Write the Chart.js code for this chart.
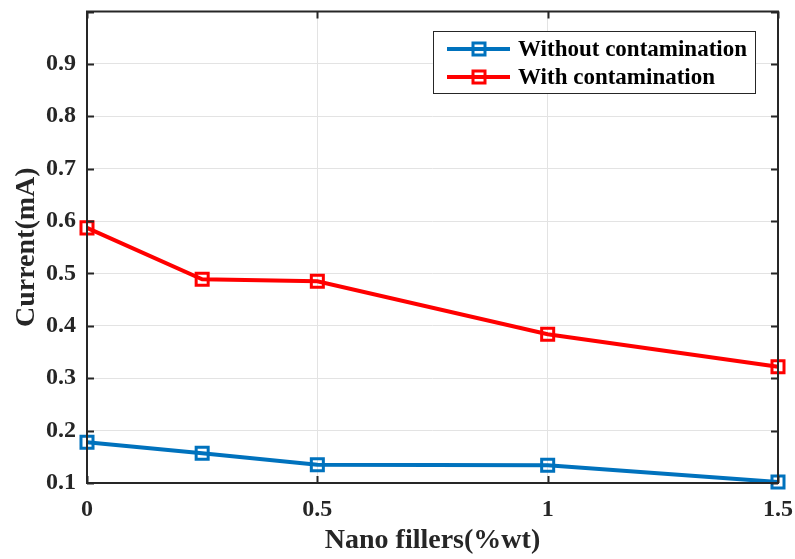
<!DOCTYPE html>
<html>
<head>
<meta charset="utf-8">
<script src="https://cdn.jsdelivr.net/npm/chart.js@4"></script>
<style>
  html, body { margin: 0; padding: 0; background: #fff; }
  #wrap { width: 795px; height: 559px; position: relative; }
</style>
</head>
<body>
<div id="wrap"><canvas id="chart"></canvas></div>
<script>
const fillers = [0, 0.25, 0.5, 1, 1.5];
const withoutContamination = [0.178, 0.157, 0.135, 0.134, 0.102];
const withContamination = [0.587, 0.489, 0.485, 0.384, 0.322];
const seriesNames = ['Without contamination', 'With contamination'];
const seriesColors = ['#0072BD', '#FF0000'];

const FONT = '"Liberation Serif", "Times New Roman", serif';
const AXIS = '#262626';

function toPoints(values) {
  return fillers.map((x, i) => ({ x: x, y: values[i] }));
}

// box around the plot with inward tick marks on all four sides
const framePlugin = {
  id: 'frame',
  afterDraw(chart) {
    const { ctx, chartArea: a, scales } = chart;
    const tl = 7;
    ctx.save();
    ctx.strokeStyle = AXIS;
    ctx.lineWidth = 2;
    ctx.strokeRect(a.left, a.top, a.right - a.left, a.bottom - a.top);
    ctx.beginPath();
    scales.y.ticks.forEach(t => {
      const py = Math.round(scales.y.getPixelForValue(t.value)) + 0.5;
      ctx.moveTo(a.left, py); ctx.lineTo(a.left + tl, py);
      ctx.moveTo(a.right, py); ctx.lineTo(a.right - tl, py);
    });
    scales.x.ticks.forEach(t => {
      const px = Math.round(scales.x.getPixelForValue(t.value)) + 0.5;
      ctx.moveTo(px, a.bottom); ctx.lineTo(px, a.bottom - tl);
      ctx.moveTo(px, a.top); ctx.lineTo(px, a.top + tl);
    });
    ctx.stroke();
    ctx.restore();
  }
};

// matlab style legend: line sample with square marker
const legendPlugin = {
  id: 'boxLegend',
  afterDraw(chart) {
    const { ctx } = chart;
    const x0 = 433, y0 = 31, w = 322, h = 62;
    ctx.save();
    ctx.fillStyle = '#fff';
    ctx.fillRect(x0, y0, w, h);
    ctx.strokeStyle = AXIS;
    ctx.lineWidth = 1;
    ctx.strokeRect(x0 + 0.5, y0 + 0.5, w, h);
    chart.data.datasets.forEach((ds, i) => {
      const cy = 49 + i * 28;
      ctx.strokeStyle = ds.borderColor;
      ctx.lineWidth = 4;
      ctx.beginPath();
      ctx.moveTo(447, cy); ctx.lineTo(510, cy);
      ctx.stroke();
      ctx.lineWidth = 3;
      ctx.strokeRect(473, cy - 6, 12, 12);
      ctx.fillStyle = '#000';
      ctx.font = 'bold 23px ' + FONT;
      ctx.textBaseline = 'middle';
      ctx.fillText(ds.label, 518, cy + 1);
    });
    ctx.restore();
  }
};

const datasets = [withoutContamination, withContamination].map((vals, i) => ({
  label: seriesNames[i],
  data: toPoints(vals),
  borderColor: seriesColors[i],
  backgroundColor: 'transparent',
  borderWidth: 4,
  pointStyle: 'rect',
  pointRadius: 8.5,
  pointBorderWidth: 3,
  pointBackgroundColor: 'transparent',
  pointBorderColor: seriesColors[i],
  tension: 0,
  clip: false
}));

new Chart(document.getElementById('chart'), {
  type: 'line',
  data: { datasets: datasets },
  options: {
    responsive: true,
    maintainAspectRatio: false,
    animation: false,
    layout: { padding: { top: 9, right: 17, left: 0, bottom: 0 } },
    plugins: {
      legend: { display: false },
      tooltip: { enabled: false }
    },
    scales: {
      x: {
        type: 'linear',
        min: 0,
        max: 1.5,
        afterFit(scale) {
          scale.height = 76;
          scale.paddingLeft = 0;
          scale.paddingRight = 0;
        },
        grid: { color: '#e3e3e3', lineWidth: 1, drawTicks: false },
        border: { display: false },
        ticks: {
          stepSize: 0.5,
          padding: 12,
          color: AXIS,
          font: { family: FONT, size: 24, weight: 'bold' },
          callback: v => String(Math.round(v * 10) / 10)
        },
        title: {
          display: true,
          text: 'Nano fillers(%wt)',
          color: AXIS,
          padding: { top: 0, bottom: 1 },
          font: { family: FONT, size: 28, weight: 'bold' }
        }
      },
      y: {
        min: 0.1,
        max: 1.0,
        afterFit(scale) {
          scale.width = 87;
          scale.paddingTop = 0;
          scale.paddingBottom = 0;
        },
        grid: { color: '#e3e3e3', lineWidth: 1, drawTicks: false },
        border: { display: false },
        ticks: {
          stepSize: 0.1,
          padding: 11,
          color: AXIS,
          font: { family: FONT, size: 24, weight: 'bold' },
          callback: v => (v > 0.95 ? '' : (Math.round(v * 10) / 10).toFixed(1))
        },
        title: {
          display: true,
          text: 'Current(mA)',
          color: AXIS,
          padding: { top: 10, bottom: 0 },
          font: { family: FONT, size: 28, weight: 'bold' }
        }
      }
    }
  },
  plugins: [framePlugin, legendPlugin]
});
</script>
</body>
</html>
